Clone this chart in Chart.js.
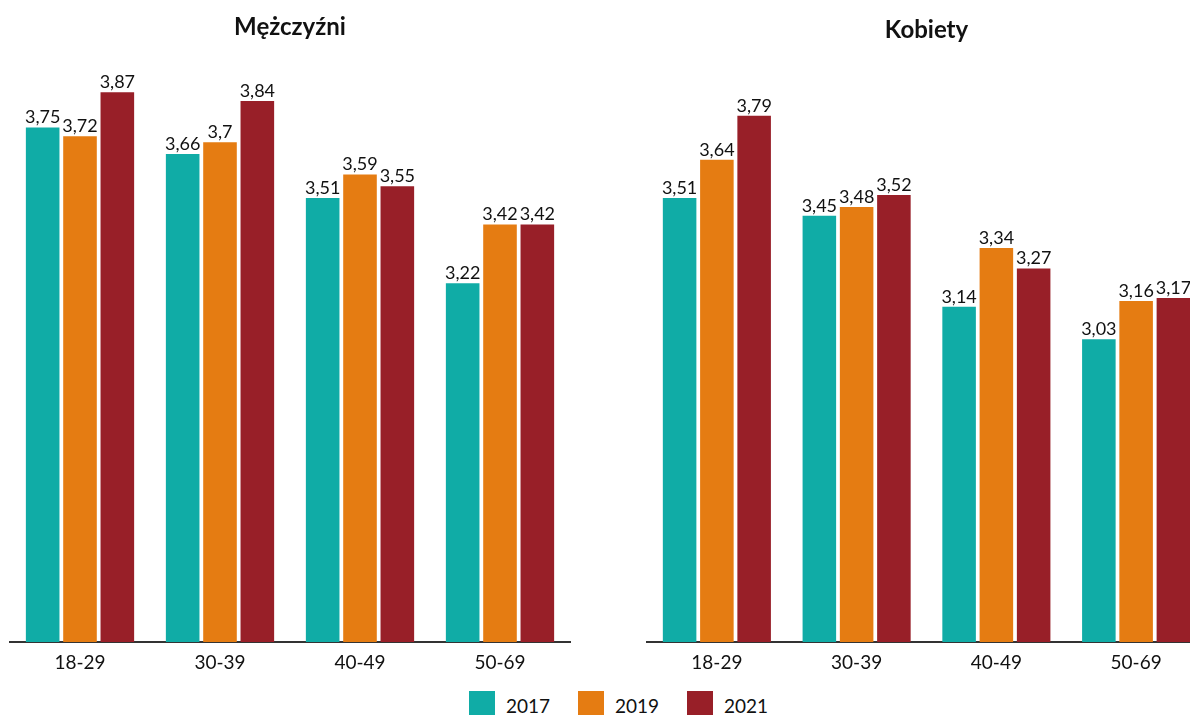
<!DOCTYPE html>
<html>
<head>
<meta charset="utf-8">
<script src="https://cdn.jsdelivr.net/npm/chart.js@4"></script>
<style>
  html, body { margin: 0; padding: 0; background: #fff; }
  body { width: 1190px; height: 715px; position: relative; overflow: hidden; font-family: Lato, "Open Sans", sans-serif; }
  #wrapL { position: absolute; left: 0; top: 0; width: 576px; height: 682px; }
  #wrapR { position: absolute; left: 640px; top: 0; width: 610px; height: 682px; }
  #legend { position: absolute; top: 691px; left: 469px; display: flex; align-items: center; }
  .item { display: flex; align-items: center; width: 109px; }
  .box { width: 26px; height: 26px; margin-right: 11px; }
  .lbl { font-size: 19px; color: #111; line-height: 26px; position: relative; top: 2px; }
</style>
</head>
<body>
<div id="wrapL"><canvas id="cL"></canvas></div>
<div id="wrapR"><canvas id="cR"></canvas></div>
<div id="legend"></div>
<script>
const categories = ["18-29", "30-39", "40-49", "50-69"];
const seriesNames = ["2017", "2019", "2021"];
const menValues2017 = [3.75, 3.66, 3.51, 3.22];
const menValues2019 = [3.72, 3.70, 3.59, 3.42];
const menValues2021 = [3.87, 3.84, 3.55, 3.42];
const womenValues2017 = [3.51, 3.45, 3.14, 3.03];
const womenValues2019 = [3.64, 3.48, 3.34, 3.16];
const womenValues2021 = [3.79, 3.52, 3.27, 3.17];
const colors = ["#10ACA6", "#E57C12", "#981F28"];
const titleMen = "Mężczyźni";
const titleWomen = "Kobiety";

const fontFamily = "Lato, 'Open Sans', sans-serif";

const labelPlugin = {
  id: "valueLabels",
  afterDatasetsDraw(chart) {
    const ctx = chart.ctx;
    ctx.save();
    ctx.font = "18px " + fontFamily;
    ctx.fillStyle = "#111";
    ctx.textAlign = "center";
    ctx.textBaseline = "bottom";
    chart.data.datasets.forEach((ds, di) => {
      const meta = chart.getDatasetMeta(di);
      meta.data.forEach((bar, i) => {
        const v = ds.data[i];
        const txt = String(Math.round(v * 100) / 100).replace(".", ",");
        ctx.fillText(txt, bar.x, bar.y - 1);
      });
    });
    ctx.restore();
  }
};

function makeChart(id, title, vals, titlePad, layoutPad) {
  return new Chart(document.getElementById(id), {
    type: "bar",
    data: {
      labels: categories,
      datasets: seriesNames.map((n, k) => ({
        label: n,
        data: vals[k],
        backgroundColor: colors[k],
        borderWidth: 0,
        categoryPercentage: 0.8,
        barPercentage: 0.9
      }))
    },
    options: {
      responsive: true,
      maintainAspectRatio: false,
      animation: false,
      devicePixelRatio: 1,
      layout: { padding: layoutPad },
      plugins: {
        legend: { display: false },
        tooltip: { enabled: false },
        title: {
          display: true,
          text: title,
          color: "#111",
          font: { family: fontFamily, size: 24, weight: "bold", lineHeight: 1.1 },
          padding: titlePad
        }
      },
      scales: {
        x: {
          grid: { display: false, drawTicks: false },
          border: { display: true, color: "#333", width: 2 },
          ticks: { color: "#111", font: { family: fontFamily, size: 19 }, padding: 9 },
          afterFit: s => { s.height = 40; }
        },
        y: {
          display: false,
          min: 2,
          max: 4
        }
      }
    },
    plugins: [labelPlugin]
  });
}

makeChart("cL", titleMen, [menValues2017, menValues2019, menValues2021],
  { top: 14, bottom: 13.6 }, { left: 10, right: 6, top: 0, bottom: 0 });
makeChart("cR", titleWomen, [womenValues2017, womenValues2019, womenValues2021],
  { top: 17, bottom: 10.6 }, { left: 7, right: 44, top: 0, bottom: 0 });

const legend = document.getElementById("legend");
seriesNames.forEach((n, k) => {
  const it = document.createElement("div");
  it.className = "item";
  it.innerHTML = '<div class="box" style="background:' + colors[k] + '"></div><span class="lbl">' + n + '</span>';
  legend.appendChild(it);
});
</script>
</body>
</html>
